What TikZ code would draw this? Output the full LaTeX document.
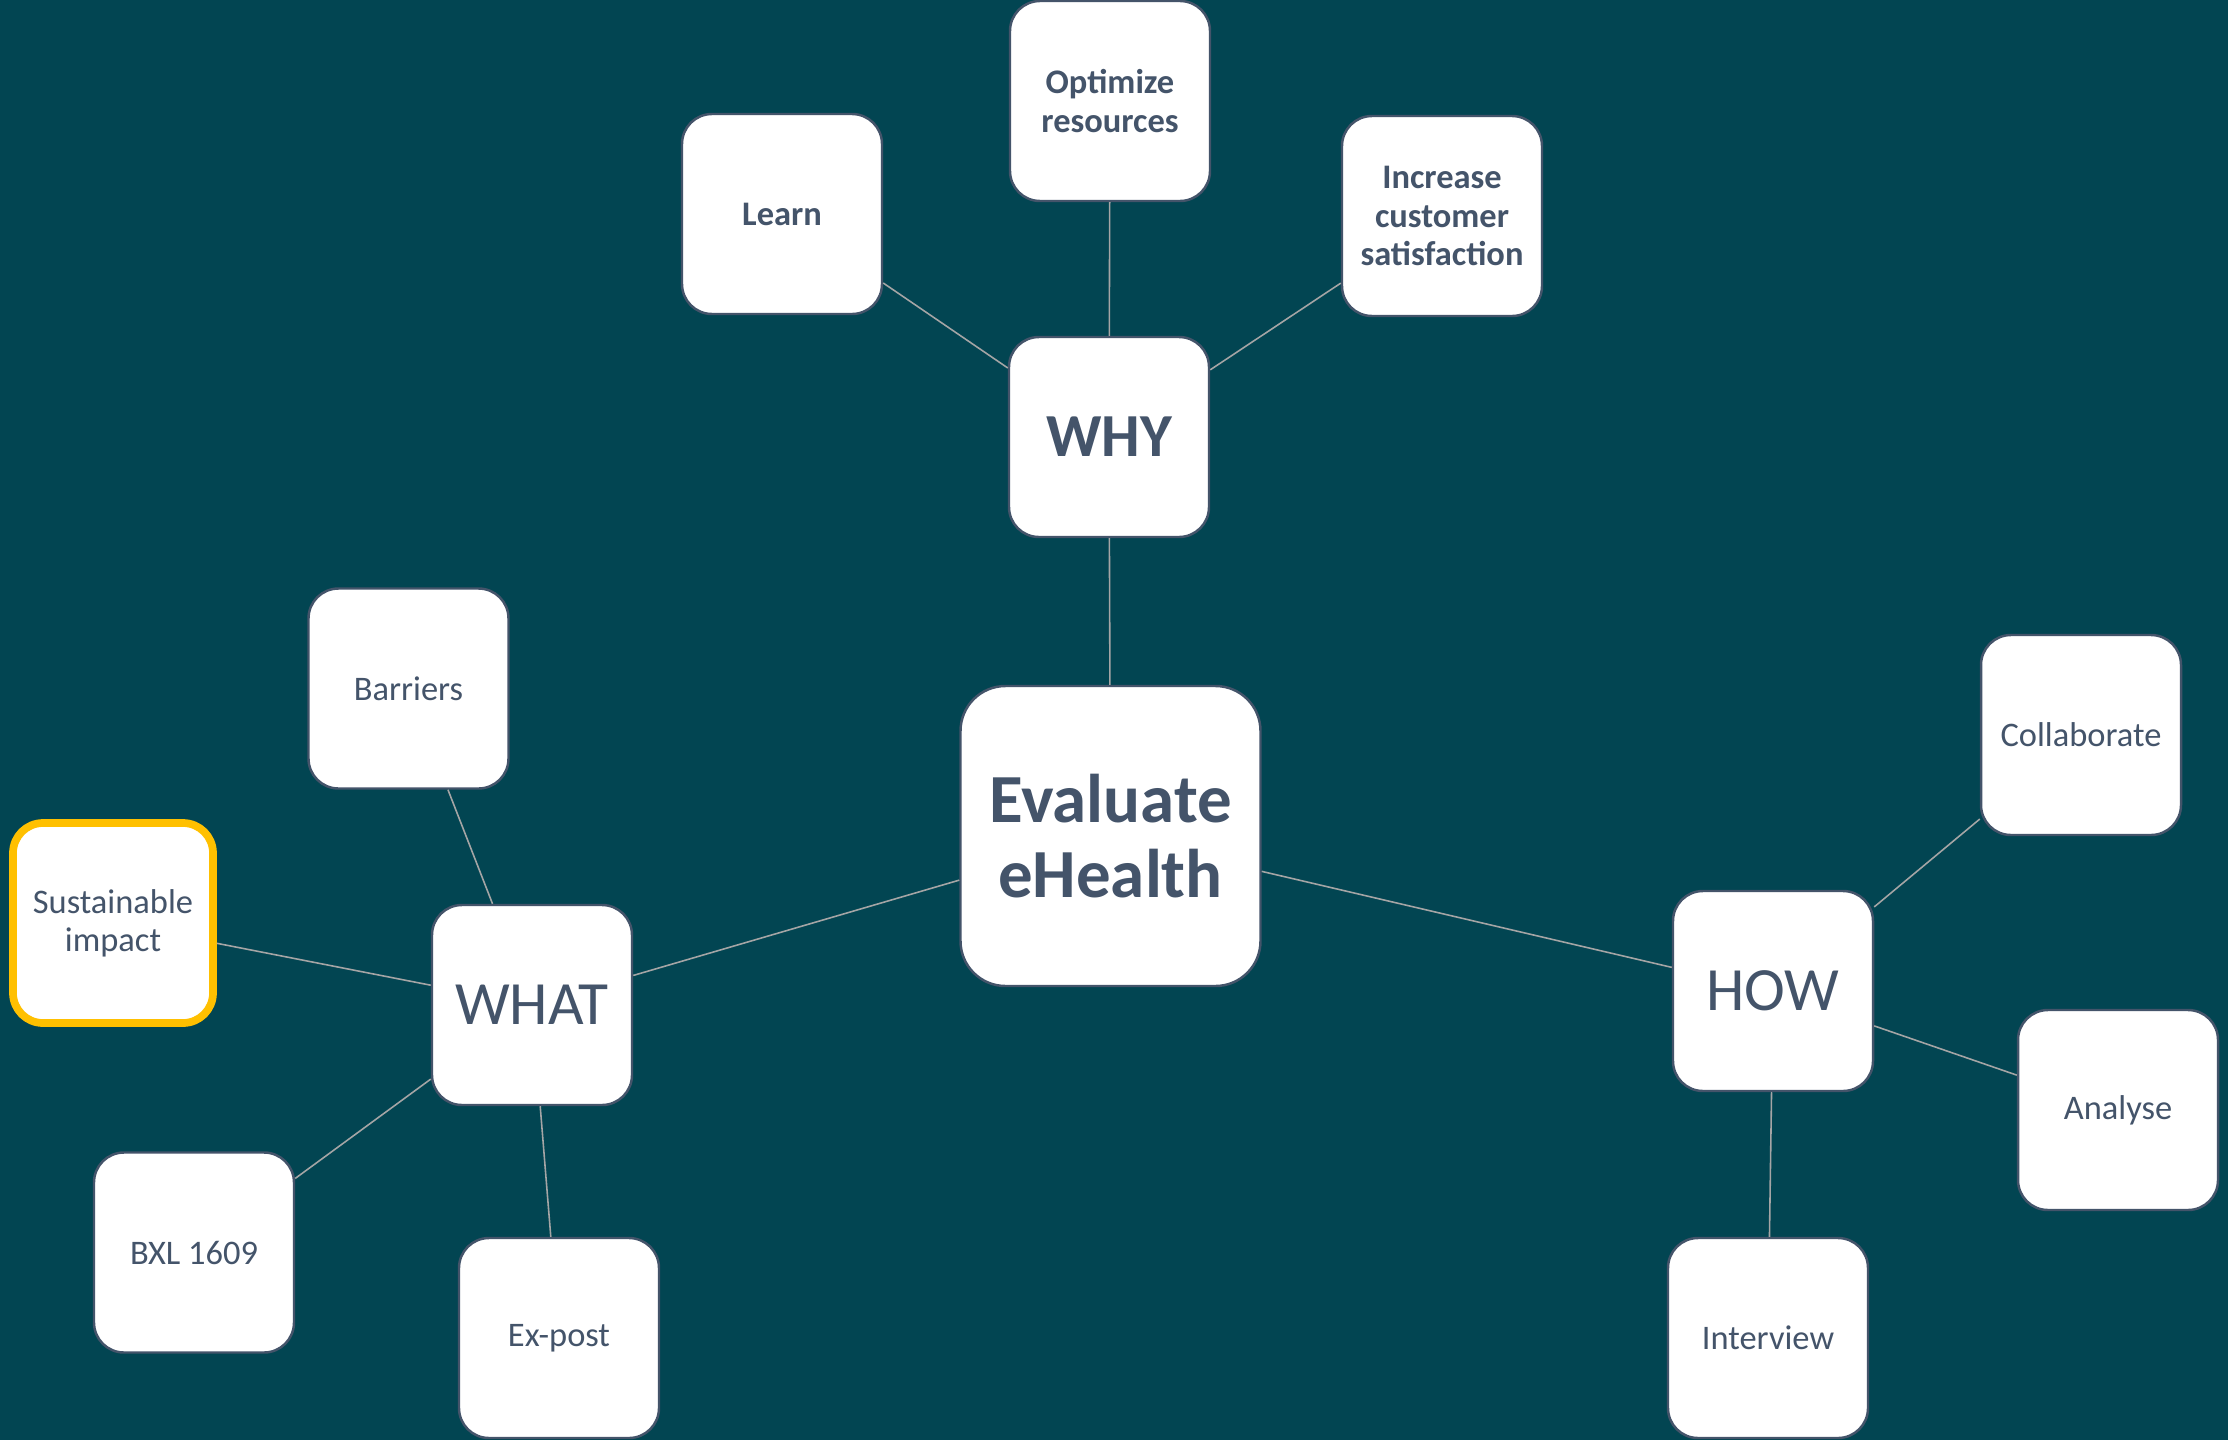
\documentclass[tikz,border=0pt]{standalone}
\usepackage{fontspec}
\setmainfont{Carlito}
\usetikzlibrary{positioning}
\definecolor{bgteal}{HTML}{024552}
\definecolor{slate}{HTML}{44546A}
\definecolor{linkgray}{HTML}{A5A5A5}
\definecolor{gold}{HTML}{FFC000}

\begin{document}
\begin{tikzpicture}[every edge/.style={draw,linkgray,line width=0.45pt},
                b node/.style={draw=slate,line width=0.7pt,fill=white,rounded corners=0.3cm,
                  minimum width=2cm,minimum height=2cm,inner sep=0pt,align=center,text=slate,
                  font=\fontsize{9.8}{10.9}\selectfont},
                k node/.style={b node,font=\fontsize{9.8}{10.9}\selectfont\bfseries},
                h node/.style={b node,font=\fontsize{17.5}{20}\selectfont},
                w node/.style={b node,font=\fontsize{17.4}{20}\selectfont\bfseries},
                r node/.style={b node,rounded corners=0.45cm,minimum width=3cm,minimum height=3cm,
                  font=\fontsize{19.6}{21.5}\selectfont\bfseries}]

    \fill[bgteal] (0,0) rectangle (22.28,-14.40);
    \useasboundingbox (0,0) rectangle (22.28,-14.40);

    \node[r node] (eval) at (11.105,-8.36) {Evaluate\\eHealth};

    \node[w node] (why) at (11.09,-4.37) {WHY};
    \node[k node] (learn) at (7.82,-2.14) {Learn};
    \node[k node] (optim) at (11.10,-1.01) {Optimize\\resources};
    \node[k node] (incr) at (14.42,-2.16) {Increase\\customer\\satisfaction};

    \node[h node] (what) at (5.32,-10.05) {WHAT};
    \node[b node] (barr) at (4.085,-6.885) {Barriers};
    \node[b node,draw=gold,line width=2.2pt] (sust) at (1.13,-9.23) {Sustainable\\impact};
    \node[b node] (bxl) at (1.94,-12.525) {BXL 1609};
    \node[b node] (expost) at (5.59,-13.38) {Ex-post};

    \node[h node] (how) at (17.73,-9.91) {HOW};
    \node[b node] (collab) at (20.81,-7.35) {Collaborate};
    \node[b node] (analyse) at (21.18,-11.10) {Analyse};
    \node[b node] (interv) at (17.68,-13.38) {Interview};

    \path
    (eval) edge (why)
    (eval) edge (what)
    (eval) edge (how);
    \path
    (why) edge (learn)
    (why) edge (optim)
    (why) edge (incr);
    \path
    (what) edge (barr)
    (what) edge (sust)
    (what) edge (bxl)
    (what) edge (expost);
    \path
    (how) edge (collab)
    (how) edge (analyse)
    (how) edge (interv);

\end{tikzpicture}
\end{document}
